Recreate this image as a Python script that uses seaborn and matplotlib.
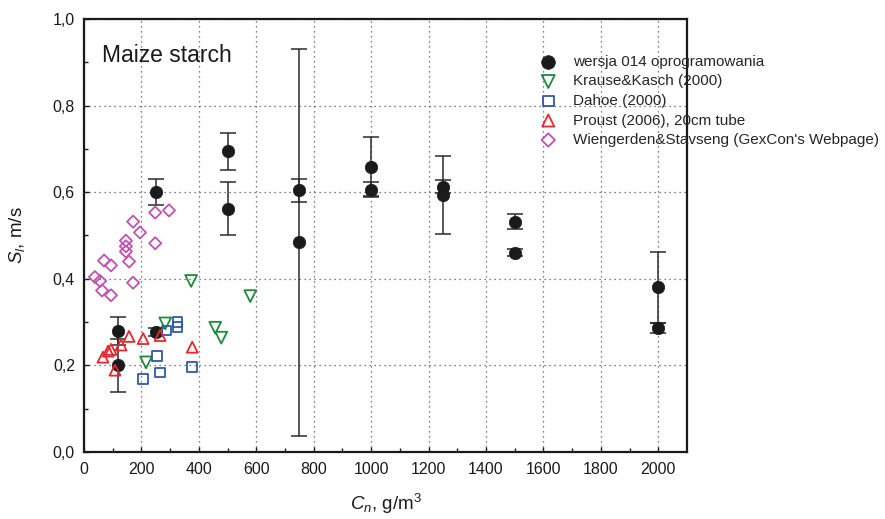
import numpy as np
import pandas as pd
import matplotlib
matplotlib.use("Agg")
import matplotlib.pyplot as plt
import seaborn as sns

# ---------------- data ----------------
wersja_x = [120, 120, 250, 250, 500, 500, 750, 750, 1000, 1000, 1250, 1250, 1500, 1500, 2000, 2000]
wersja_y = [0.279, 0.200, 0.600, 0.277, 0.694, 0.562, 0.604, 0.484, 0.659, 0.606, 0.613, 0.594, 0.532, 0.460, 0.380, 0.286]
wersja_err = [0.032, 0.062, 0.030, 0.010, 0.042, 0.062, 0.026, 0.446, 0.068, 0.018, 0.015, 0.090, 0.018, 0.008, 0.083, 0.012]

krause_x = [373, 579, 457, 478, 283, 216]
krause_y = [0.395, 0.360, 0.287, 0.264, 0.297, 0.207]

dahoe_x = [325, 325, 287, 255, 265, 206, 377]
dahoe_y = [0.300, 0.289, 0.281, 0.221, 0.184, 0.168, 0.196]

proust_x = [66, 84, 94, 129, 108, 157, 206, 265, 377]
proust_y = [0.219, 0.233, 0.237, 0.247, 0.189, 0.267, 0.262, 0.269, 0.242]

wien_x = [38, 56, 63, 94, 70, 94, 146, 146, 146, 157, 171, 171, 195, 248, 296, 248]
wien_y = [0.404, 0.395, 0.373, 0.362, 0.442, 0.431, 0.488, 0.475, 0.463, 0.440, 0.391, 0.532, 0.507, 0.553, 0.558, 0.482]

series_labels = ["wersja 014 oprogramowania", "Krause&Kasch (2000)", "Dahoe (2000)",
                 "Proust (2006), 20cm tube", "Wiengerden&Stavseng (GexCon's Webpage)"]

x_ticks = [0, 200, 400, 600, 800, 1000, 1200, 1400, 1600, 1800, 2000]
y_ticks = [0.0, 0.2, 0.4, 0.6, 0.8, 1.0]
y_tick_labels = ["0,0", "0,2", "0,4", "0,6", "0,8", "1,0"]

# ---------------- style ----------------
sns.set_style("ticks")
plt.rcParams["font.family"] = ["Liberation Sans", "DejaVu Sans"]
plt.rcParams["mathtext.fontset"] = "custom"
plt.rcParams["mathtext.rm"] = "Liberation Sans"
plt.rcParams["mathtext.it"] = "Liberation Sans:italic"
plt.rcParams["mathtext.bf"] = "Liberation Sans:bold"

fig = plt.figure(figsize=(8.85, 5.19), dpi=100)
ax = fig.add_axes([84 / 885, 67 / 519, 603 / 885, 433 / 519])

# error bars
ax.errorbar(wersja_x, wersja_y, yerr=wersja_err, fmt="none", ecolor="#2b2b2b",
            elinewidth=1.1, capsize=5.5, capthick=1.1, zorder=3)

df_w = pd.DataFrame({"x": wersja_x, "y": wersja_y})
sns.scatterplot(data=df_w, x="x", y="y", ax=ax, marker="o", s=80, color="#1a1a1a",
                edgecolor="#1a1a1a", linewidth=0.5, label=series_labels[0], zorder=4)

specs = [
    (krause_x, krause_y, "v", "#1d8a3c", 72, series_labels[1]),
    (dahoe_x, dahoe_y, "s", "#2f5aa8", 48, series_labels[2]),
    (proust_x, proust_y, "^", "#e8262b", 62, series_labels[3]),
    (wien_x, wien_y, "D", "#c052b0", 38, series_labels[4]),
]
for xs, ys, mk, col, sz, lab in specs:
    d = pd.DataFrame({"x": xs, "y": ys})
    sns.scatterplot(data=d, x="x", y="y", ax=ax, marker=mk, s=sz, color=col,
                    facecolor="none", edgecolor=col, linewidth=1.3, label=lab, zorder=5)

ax.set_xlim(0, 2100)
ax.set_ylim(0, 1.0)
ax.set_xticks(x_ticks)
ax.set_xticks(np.arange(100, 2100, 200), minor=True)
ax.set_yticks(y_ticks)
ax.set_yticklabels(y_tick_labels)
ax.set_yticks(np.arange(0.1, 1.0, 0.2), minor=True)

ax.grid(True, which="major", linestyle=(0, (1, 3)), color="#555555", linewidth=0.9)
ax.set_axisbelow(True)

for sp in ax.spines.values():
    sp.set_linewidth(1.6)
    sp.set_color("#1a1a1a")
    sp.set_visible(True)

ax.tick_params(which="both", direction="in", top=False, right=False,
               labelsize=11.5, colors="#1a1a1a")
ax.tick_params(which="major", length=3.5, width=1.0)
ax.tick_params(which="minor", length=3, width=1.0)
ax.tick_params(axis="x", which="major", pad=7)
ax.tick_params(axis="y", which="major", pad=6.5)

ax.set_xlabel(r"$C_n$, g/m$^3$", fontsize=13.5, color="#1a1a1a")
ax.set_ylabel(r"$S_l$, m/s", fontsize=13.5, color="#1a1a1a")
ax.xaxis.set_label_coords(0.5, -0.092)
ax.yaxis.set_label_coords(-0.095, 0.5)

ax.text(0.03, 0.90, "Maize starch", transform=ax.transAxes, fontsize=16.5,
        ha="left", va="baseline", color="#1a1a1a")

ax.legend(loc="upper left", bbox_to_anchor=(541 / 885, 1 - 55 / 519),
          bbox_transform=fig.transFigure, frameon=False, fontsize=11,
          handlelength=0.95, handletextpad=1.15, labelspacing=0.36,
          borderpad=0, borderaxespad=0, scatterpoints=1, markerscale=1.1)

fig.savefig("out.png", dpi=100)
